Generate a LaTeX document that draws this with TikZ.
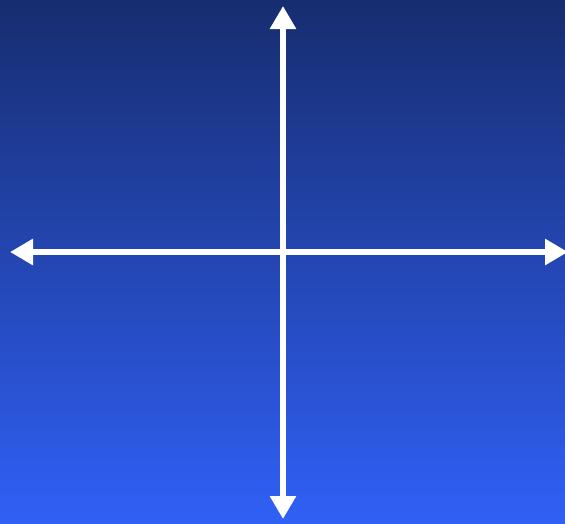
\documentclass[tikz,border=0pt]{standalone}
\usetikzlibrary{arrows.meta}
\definecolor{skytop}{RGB}{23,45,112}
\definecolor{skybottom}{RGB}{48,96,246}
\tikzset{axis/.style={white, line width=6pt, {Triangle[length=23pt,width=25pt]}-{Triangle[length=23pt,width=25pt]}}}
\begin{document}
\begin{tikzpicture}[x=1pt,y=-1pt]
	\def\W{565}
	\def\H{523}
	\useasboundingbox (0,0) rectangle (\W,\H);
	\shade[top color=skytop, bottom color=skybottom] (0,0) rectangle (\W,\H);
	\coordinate (N) at (283,6);
	\coordinate (S) at (283,519);
	\coordinate (W) at (10,252);
	\coordinate (E) at (568,252);
	\draw[axis] (W) -- (E);
	\draw[axis] (S) -- (N);
\end{tikzpicture}
\end{document}
